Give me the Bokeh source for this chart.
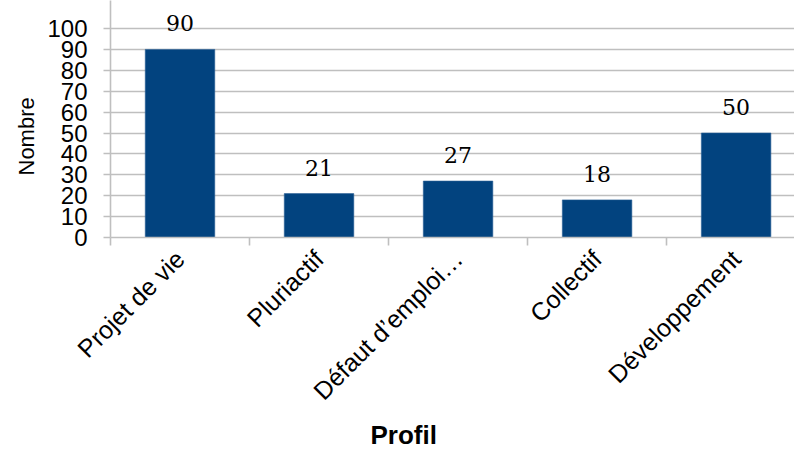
import math
from bokeh.plotting import figure
from bokeh.models import Range1d, FixedTicker, ColumnDataSource, Title
from bokeh.core.properties import value
from bokeh.embed import file_html
from bokeh.resources import INLINE

categories = ["Projet de vie", "Pluriactif", "Défaut d’emploi…", "Collectif", "Développement"]
counts = [90, 21, 27, 18, 50]
y_ticks = [0, 10, 20, 30, 40, 50, 60, 70, 80, 90, 100]

xs = list(range(len(categories)))
src = ColumnDataSource(dict(x=xs, top=counts, lbl=[str(v) for v in counts]))

p = figure(width=794, height=450, output_backend="svg", toolbar_location=None,
           x_range=Range1d(-0.5, 4.42), y_range=Range1d(0, 113.4),
           min_border_left=110, min_border_right=0, min_border_top=0,
           min_border_bottom=213)
p.outline_line_color = None
p.background_fill_color = "white"

p.vbar(x="x", top="top", width=0.5, bottom=0, source=src,
       fill_color="#02437f", line_color="#2a5f96", line_width=0.6)
p.text(x="x", y="top", text="lbl", source=src, text_align="center",
       text_baseline="alphabetic", y_offset=-26,
       text_font=value("DejaVu Serif"), text_font_size="22px", text_color="black")

grey = "#bfbfbf"
p.xgrid.visible = False
p.ygrid.grid_line_color = grey
p.ygrid.grid_line_width = 1.6

p.yaxis.ticker = FixedTicker(ticks=y_ticks)
p.yaxis.axis_line_color = grey
p.yaxis.axis_line_width = 1.6
p.yaxis.major_tick_line_color = grey
p.yaxis.major_tick_line_width = 1.6
p.yaxis.major_tick_out = 7
p.yaxis.major_tick_in = 0
p.yaxis.minor_tick_line_color = None
p.yaxis.major_label_standoff = 16
p.yaxis.major_label_text_font = "Liberation Sans"
p.yaxis.major_label_text_font_size = "24px"
p.yaxis.major_label_text_color = "black"

p.xaxis.ticker = FixedTicker(ticks=xs, minor_ticks=[i - 0.5 for i in range(len(categories) + 1)])
p.xaxis.major_label_overrides = {i: c for i, c in enumerate(categories)}
p.xaxis.axis_line_color = grey
p.xaxis.axis_line_width = 1.6
p.xaxis.major_tick_line_color = None
p.xaxis.major_tick_out = 0
p.xaxis.major_tick_in = 0
p.xaxis.minor_tick_line_color = grey
p.xaxis.minor_tick_line_width = 1.6
p.xaxis.minor_tick_out = 8
p.xaxis.minor_tick_in = 0
p.xaxis.major_label_orientation = math.pi / 4
p.xaxis.major_label_standoff = 9
p.xaxis.major_label_text_font = "Liberation Sans"
p.xaxis.major_label_text_font_size = "25px"
p.xaxis.major_label_text_color = "black"

ytitle = Title(text="Nombre", align="left", offset=62, standoff=12,
               text_font="Liberation Sans", text_font_size="22px",
               text_font_style="normal", text_color="black")
p.add_layout(ytitle, "left")
xtitle = Title(text="Profil", align="left", offset=260, standoff=0,
               text_font="Liberation Sans", text_font_size="26px",
               text_font_style="bold", text_color="black")
p.add_layout(xtitle, "below")

open("out.html", "w").write(file_html(p, INLINE))
